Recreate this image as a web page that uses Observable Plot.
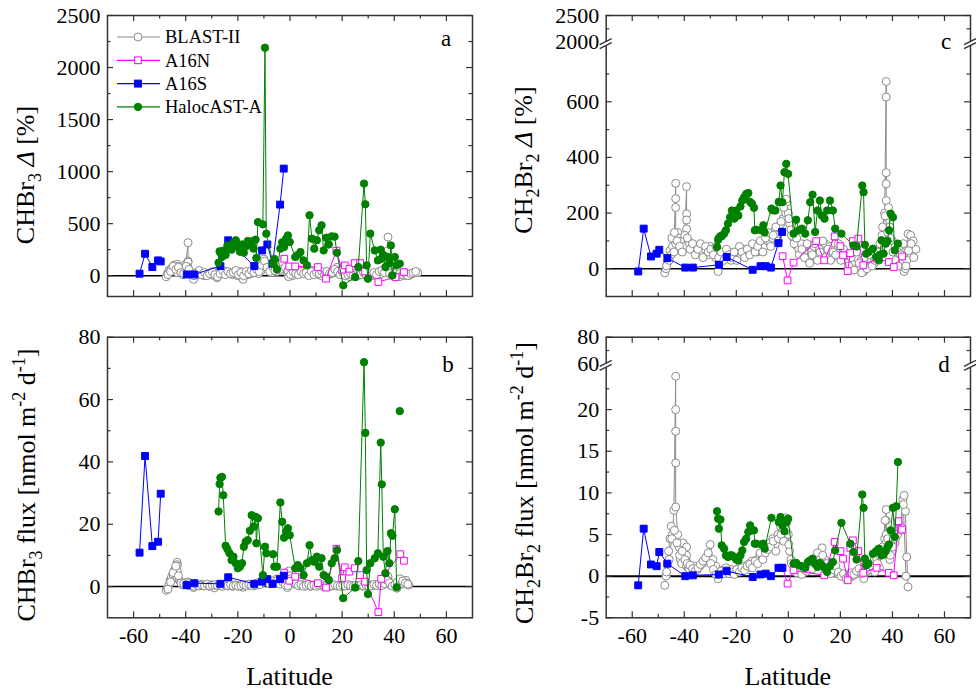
<!DOCTYPE html>
<html>
<head>
<meta charset="utf-8">
<script src="https://cdn.jsdelivr.net/npm/d3@7"></script>
<script src="https://cdn.jsdelivr.net/npm/@observablehq/plot@0.6"></script>
<style>
  body { margin: 0; background: #fff; }
  #fig { position: relative; width: 976px; height: 696px; background: #fff; }
  #fig svg { position: absolute; overflow: visible; }
</style>
</head>
<body>
<div id="fig"></div>
<script>
const FONT = '"Liberation Serif", "Times New Roman", serif';

// ---- BLAST-II, first leg (latitude in degrees) ----
const BLAST_LAT = [
  -47.5,-47,-46.5,-46,-45.5,-45,-44.5,-44,-43.3,-43.3,
  -43.3,-43.3,-43.3,-42.5,-42,-41.5,-41,-40.5,-40,-39.1,
  -39.1,-39.1,-39.1,-38.5,-38,-37,-36,-35,-34,-33,
  -32,-31,-30,-29,-28,-27,-26,-25,-24,-23,
  -22,-21,-20,-19,-18,-17,-16,-15,-14,-13,
  -12,-11,-10,-9,-8,-7,-6,-5,-4,-3,
  -2,-1,-0.5,0,0.5,1,2,3,4,5,
  6,7,8,9,10,11,12,13,14,15,
  16,17,18,19,20,21,22,23,24,25,
  26,27,28,29,30,31,32,33,34,35,
  36,37,37.6,37.6,37.6,37.6,37.6,38.5,39,40,
  41,42,43,44,44.5,45,45.5,46,47,48,
  49
];
const BLAST_A = [
  -10,20,50,40,70,60,100,80,110,90,
  70,50,30,60,40,20,10,60,110,317,
  140,130,80,40,20,-35,30,10,20,0,
  10,20,10,0,-20,10,30,40,20,30,
  10,20,0,40,-35,20,10,20,30,40,
  20,50,160,120,60,30,60,40,80,50,
  60,30,-10,40,20,0,30,40,20,30,
  50,20,10,30,20,10,0,20,30,10,
  20,50,80,30,10,20,0,-10,10,20,
  0,10,20,0,-10,0,10,20,30,20,
  40,60,371,240,150,90,50,30,10,0,
  10,-10,10,0,20,10,0,10,20,30,
  30
];
const BLAST_B = [
  -1.2,-0.5,0.5,2,3,4,5,6,7.8,7,
  6.5,5,3,2,1.5,1,0.5,1.2,1,0.5,
  0.8,1.5,0.3,0.6,0.2,-0.3,0.5,0.3,0.8,0.2,
  0.5,0.1,0.6,-0.4,0.3,0.5,0.2,0.6,0.2,0.4,
  0.1,0.5,0.2,0.3,-0.2,0.5,0.3,0.6,0.2,0.5,
  0.8,1.0,1.5,2.0,1.2,1.5,1.0,2.5,1.5,1.2,
  0.8,-0.3,5.0,3.5,2.0,1.2,0.8,0.5,0.3,0.6,
  0.2,0.4,0.1,0.5,0.3,0.6,0.2,0.4,0.1,0.3,
  0.2,0.5,0.2,0.4,0.1,0.3,0.2,0.5,0.1,0.3,
  0.2,0.4,0.1,0.3,0.2,0.5,0.3,0.6,0.2,0.5,
  0.8,1.2,2.5,3.2,2.0,1.5,1.0,0.5,0.8,0.3,
  -0.5,0.5,1.0,1.5,2.0,1.0,0.5,null,null,null,
  null
];
const BLAST_C = [
  -15,0,20,40,65,50,80,60,307,252,
  220,128,90,130,110,90,100,70,80,295,
  197,175,143,100,90,80,70,60,80,60,
  70,50,80,60,40,-10,30,50,40,60,
  30,50,40,60,50,70,50,60,70,80,
  60,90,70,80,100,90,110,140,120,160,
  180,200,240,200,160,140,110,85,70,90,
  60,40,30,60,80,50,70,40,90,60,
  80,40,90,70,50,60,40,20,0,20,
  40,10,30,-10,20,10,30,20,40,60,
  120,200,673,617,305,345,245,220,150,100,
  80,60,40,20,-10,0,30,125,120,100,
  70
];
const BLAST_D = [
  -1.1,0,1.5,3,4.5,6,5,7.9,24,20,
  17.4,13.6,8.3,5,3.5,2.0,1.5,4.0,3.0,3.5,
  2.5,1.8,1.2,1.0,0.8,1.0,1.2,0.8,1.2,1.5,
  2.0,2.5,3.8,2.0,1.2,-0.3,0.5,0.8,1.0,0.5,
  0.8,0.3,0.6,1.0,0.8,1.2,1.0,1.5,1.8,1.5,
  2.0,2.5,2.2,3.0,3.5,4.0,4.5,3.8,5.0,6.0,
  5.5,7.0,6.5,5.0,3.0,2.0,1.2,0.8,0.5,0.3,
  0.5,1.0,1.5,1.2,1.8,2.2,2.5,3.4,2.0,1.5,
  1.0,0.8,0.5,0.3,0.2,0.1,0.0,0.2,-0.1,0.1,
  0.3,0.5,0.8,-0.3,1.0,0.5,1.0,1.5,2.0,1.0,
  3.0,4.5,8.0,6.7,5.0,4.0,3.0,2.5,2.0,3.0,
  4.0,5.0,6.0,9.2,9.7,7.8,2.3,-1.3,null,null,
  null
];

// ---- BLAST-II, second leg ----
const BLAST2_LAT = [
  -46.8,-45.8,-44.8,-43.8,-42.8,-41.8,-40.8,-39.8,-38.8,-37.8,
  -36.8,-35.8,-34.8,-33.8,-32.8,-31.8,-30.8,-29.8,-28.8,-27.8,
  -26.8,-25.8,-24.8,-23.8,-22.8,-21.8,-20.8,-19.8,-18.8,-17.8,
  -16.8,-15.8,-14.8,-13.8,-12.8,-11.8,-10.8,-9.8,-8.8,-7.8,
  -6.8,-5.8,-4.8,-3.8,-2.8,-1.8,-0.8,0.2,1.2,2.2,
  3.2,4.2,5.2,6.2,7.2,8.2,9.2,10.2,11.2,12.2,
  13.2,14.2,15.2,16.2,17.2,18.2,19.2,20.2,21.2,22.2,
  23.2,24.2,25.2,26.2,27.2,28.2,29.2,30.2,31.2,32.2,
  33.2,34.2,35.2,36.2,37.2,38.2,39.2,40.2,41.2,42.2,
  43.2,44.2,45.2,46.2,47.2,48.2
];
const BLAST2_A = [
  10,40,90,60,80,30,20,90,60,10,
  0,30,50,10,30,0,20,40,10,-10,
  20,50,10,40,20,30,50,10,30,0,
  40,20,50,30,60,40,100,140,80,40,
  90,50,100,60,130,80,50,10,40,20,
  10,40,20,30,0,40,10,30,20,40,
  10,40,20,30,60,40,10,30,0,10,
  20,0,-10,20,10,30,10,20,0,30,
  10,40,50,30,80,20,0,20,0,20,
  10,20,0,20,30,40
];
const BLAST2_B = [
  -0.8,1.5,4.5,6.5,3.5,1.2,1.0,0.7,1.0,0.4,
  0.1,0.6,0.2,0.5,0.3,0.8,0.2,0.4,0.6,0.3,
  0.4,0.1,0.5,0.3,0.6,0.2,0.4,0.1,0.3,0.6,
  0.4,0.8,0.4,0.7,1.2,0.6,1.8,2.5,1.5,0.9,
  1.8,1.2,2.0,0.8,1.5,0.5,0.3,2.5,1.5,1.0,
  0.3,0.6,0.1,0.4,0.7,0.2,0.5,0.1,0.4,0.6,
  0.2,0.5,0.1,0.3,0.6,0.3,0.1,0.4,0.2,0.6,
  0.3,0.1,0.4,0.2,0.5,0.2,0.4,0.1,0.3,0.7,
  0.4,0.9,0.3,1.0,2.0,1.2,0.2,0.6,1.5,2.5,
  1.8,1.2,0.8,null,null,null
];
const BLAST2_C = [
  10,30,110,130,100,80,60,120,110,70,
  90,50,70,90,40,80,60,70,50,80,
  40,60,30,70,50,40,60,30,80,60,
  40,70,50,90,60,80,100,60,110,130,
  80,120,150,100,170,220,250,180,120,90,
  110,50,70,40,90,20,50,90,30,60,
  100,40,70,30,60,50,90,30,70,50,
  10,40,-5,60,20,-15,40,0,50,10,
  30,60,90,150,190,130,110,60,30,10,
  50,90,10,65,90,40
];
const BLAST2_D = [
  0.5,2.0,4.5,5.5,4.0,2.5,3.0,2.0,1.5,1.3,
  0.9,0.6,1.0,1.4,1.8,2.2,2.8,1.5,0.8,0.2,
  0.2,0.6,0.3,0.7,0.3,0.5,0.2,0.8,0.5,1.0,
  0.7,1.2,1.4,1.0,1.8,1.5,2.8,2.0,2.8,3.2,
  3.5,4.2,3.0,4.5,5.0,4.2,5.5,3.8,1.5,0.8,
  0.4,0.7,0.2,0.8,0.6,1.2,0.9,1.5,2.8,2.0,
  2.5,1.0,0.6,0.3,0.8,1.2,0.5,0.0,0.3,-0.3,
  0.0,0.4,0.2,0.6,0.9,0.3,1.2,0.6,0.8,1.2,
  0.5,1.5,2.5,3.5,6.7,4.5,2.5,3.5,4.5,6.5,
  5.5,8.6,0.0,null,null,null
];

// ---- A16N ----
const A16N_LAT = [-2.2,-0.3,2.0,10.7,13.8,17.8,20.0,21.0,22.8,23.8,24.8,26.9,28.8,33.9,35.0,38.6,40.5,42.3,43.7];
const A16N_A = [163,89,89,83,-29,240,58,99,67,null,121,121,41,-61,null,null,-13,null,35];
const A16N_B = [4.5,1.9,3.2,1.1,-0.3,12.1,2.7,6.2,4.8,null,5.9,3.7,1.6,-8.2,2.5,null,null,10.4,8.3];
const A16N_C = [45,-42,22,99,30,116,81,48,-9,56,99,108,12,36,null,24,6,null,44];
const A16N_D = [1.0,-0.9,0.7,null,0.1,4.1,3.0,2.1,-0.5,3.4,4.3,3.0,0.4,1.0,null,0.4,0.1,6.6,5.6];

// ---- A16S (NaN = no sample, the track line is broken there) ----
const A16S_LAT = [-57.7,-55.6,-52.8,-50.6,-49.6,-46.5,-39.6,-36.7,-26.7,-23.7,-13.7,-10.7,-8.7,-6.7,-3.8,-2.4];
const A16S_A = [19,211,83,147,137,NaN,12,12,92,340,92,243,300,115,683,1029];
const A16S_B = [10.9,41.9,13.0,14.4,29.8,NaN,0.5,1.1,0.9,3.0,0.9,1.6,2.4,0.9,2.4,3.5];
const A16S_C = [-10,144,44,54,68,38,4,4,14,42,-4,9,9,4,92,132];
const A16S_D = [-1.1,5.7,1.4,1.2,2.9,1.5,0.0,0.1,0.2,0.6,-0.1,0.2,0.3,0.0,1.0,1.0];

// ---- HalocAST-A ----
const HALO_LAT = [
  -27.4,-27.0,-26.7,-26.1,-25.6,-24.7,-24.0,-23.2,-22.4,-21.7,
  -20.8,-20.0,-19.2,-18.4,-17.7,-17.0,-16.2,-15.4,-14.7,-14.0,
  -13.2,-12.9,-12.3,-10.4,-9.6,-9.1,-6.5,-6.0,-5.0,-3.7,
  -3.0,-2.3,-1.5,-0.8,-0.1,2.0,3.0,4.0,5.2,6.5,
  7.5,8.4,9.3,10.3,11.2,12.1,12.9,13.9,14.9,16.0,
  17.1,18.0,20.4,23.8,25.0,26.2,28.4,28.9,29.4,29.9,
  30.8,32.5,33.7,34.8,35.2,35.8,36.6,37.4,38.1,38.7,
  39.3,40.2,40.9,41.5,42.1
];
const HALO_A = [
  125,234,220,180,240,200,290,270,250,320,
  340,280,230,300,220,280,333,300,330,260,
  346,170,515,493,2190,404,115,160,60,260,
  320,275,355,387,323,179,200,227,147,100,
  580,356,260,340,436,484,243,365,300,378,
  375,220,-93,null,-13,83,885,686,99,-29,
  404,243,147,250,163,200,83,180,120,291,
  3,179,100,null,115
];
const HALO_B = [
  24.1,32.9,34.9,35.2,29.3,13.1,12.0,10.7,8.5,9.6,
  7.5,5.9,6.4,7.5,12.8,14.4,14.9,17.9,22.9,19.2,
  22.4,13.9,21.9,3.7,12.8,10.7,10.4,6.4,6.4,27.0,
  20.8,15.7,17.6,18.7,16.5,5.9,6.9,5.9,3.7,7.5,
  13.3,8.5,8.0,9.6,6.4,9.1,3.7,3.2,2.1,7.5,
  9.1,11.7,-3.7,null,-0.3,8.2,72.0,49.3,5.3,-2.4,
  7.5,9.1,10.7,46.2,32.8,9.6,4.3,11.4,7.5,17.1,
  16.3,24.8,-0.2,NaN,56.3
];
const HALO_C = [
  78,104,110,117,117,126,138,162,185,209,
  180,209,191,224,245,257,269,272,240,234,
  219,138,140,138,156,130,216,210,209,240,
  299,239,347,377,341,126,176,138,144,126,
  174,239,266,132,209,245,191,180,209,245,
  209,144,126,null,84,80,299,275,86,54,
  60,72,42,30,50,102,54,90,100,138,
  198,185,66,null,90
];
const HALO_D = [
  7.8,6.9,5.7,6.8,3.7,3.3,2.5,2.3,2.5,2.5,
  2.3,2.0,1.9,2.5,3.1,4.1,4.5,5.3,6.1,5.5,
  5.5,3.9,3.9,3.8,3.9,3.3,7.0,null,null,6.5,
  7.1,6.1,5.4,6.5,6.9,1.5,1.6,1.3,1.2,1.0,
  1.7,1.9,2.1,1.5,1.1,1.6,1.3,1.0,0.5,1.2,
  1.7,3.1,6.4,3.9,2.9,2.0,9.8,8.2,2.1,1.3,
  1.5,2.7,3.0,3.3,2.8,2.5,2.6,3.0,3.5,3.8,
  5.5,8.2,4.7,8.4,13.7
];

// ---- axes ----
const X_DOMAIN = [-70, 70];
const X_MAJOR = [-60, -40, -20, 0, 20, 40, 60];
const X_MINOR = [-50, -30, -10, 10, 30, 50];

const SERIES = [
  {name: "BLAST-II", legs: [
     {lat: BLAST_LAT,  values: {a: BLAST_A,  b: BLAST_B,  c: BLAST_C,  d: BLAST_D}},
     {lat: BLAST2_LAT, values: {a: BLAST2_A, b: BLAST2_B, c: BLAST2_C, d: BLAST2_D}}],
   line: "#8c8c8c", stroke: "#8c8c8c", fill: "white", symbol: "circle", r: 4},
  {name: "A16N", legs: [{lat: A16N_LAT, values: {a: A16N_A, b: A16N_B, c: A16N_C, d: A16N_D}}],
   line: "#ff00ff", stroke: "#ff00ff", fill: "white", symbol: "square", r: 3.8},
  {name: "A16S", legs: [{lat: A16S_LAT, values: {a: A16S_A, b: A16S_B, c: A16S_C, d: A16S_D}}],
   line: "#0000ff", stroke: "#0000ff", fill: "#0000ff", symbol: "square", r: 3.9},
  {name: "HalocAST-A", legs: [{lat: HALO_LAT, values: {a: HALO_A, b: HALO_B, c: HALO_C, d: HALO_D}}],
   line: "#008000", stroke: "#008000", fill: "#008000", symbol: "circle", r: 3.7}
];

// null = not reported (skipped), NaN = gap in the connecting line
function rows(series, panel) {
  const out = [];
  series.legs.forEach((leg, k) => {
    const vals = leg.values[panel];
    if (leg.lat.length !== vals.length)
      throw new Error(`length mismatch in ${series.name} ${panel}: ${leg.lat.length} vs ${vals.length}`);
    leg.lat.forEach((l, i) => { if (vals[i] != null) out.push({lat: l, v: vals[i], leg: k}); });
  });
  return out;
}

// piecewise mapping for a broken value axis
function makeBreak(lowMax, gap, highMin, k) {
  return {
    lowMax, gap,
    f: v => v <= lowMax ? v : lowMax + gap + (v - highMin) * k,
    inv: u => u <= lowMax ? u : highMin + (u - lowMax - gap) / k
  };
}
const BREAK_C = makeBreak(800, 14.4, 2000, 0.192);
const BREAK_D = makeBreak(25, 0.49, 60, 0.16);

const fmt = v => String(Math.round(v * 100) / 100);
const fig = document.getElementById("fig");

function drawPanel(cfg) {
  const {id, left, top, width, height, mt, mb, ml, mr, brk, showX} = cfg;
  const fw = width - ml - mr, fh = height - mt - mb;
  const f = brk ? brk.f : (v => v);
  const inv = brk ? brk.inv : (v => v);
  const yDomain = [f(cfg.yMin), f(cfg.yMax)];
  const tickColor = "#333";
  const marks = [];

  marks.push(Plot.ruleY([0], {y: d => f(d), stroke: "#000", strokeWidth: cfg.zeroWidth || 1.5}));

  for (const s of SERIES) {
    const data = rows(s, id);
    marks.push(Plot.line(data, {x: "lat", y: d => f(d.v), z: "leg", stroke: s.line, strokeWidth: 1}));
    marks.push(Plot.dot(data, {x: "lat", y: d => f(d.v), r: s.r, symbol: s.symbol,
      stroke: s.stroke, fill: s.fill, strokeWidth: 1}));
  }

  // inward ticks on all four sides
  const tk = (vals, len, side) => {
    const o = {stroke: tickColor, strokeWidth: 1.2};
    if (side === "left") return Plot.tickY(vals, {...o, y: d => f(d), insetRight: fw - len});
    if (side === "right") return Plot.tickY(vals, {...o, y: d => f(d), insetLeft: fw - len});
    if (side === "top") return Plot.tickX(vals, {...o, x: d => d, insetBottom: fh - len});
    return Plot.tickX(vals, {...o, x: d => d, insetTop: fh - len});
  };
  for (const side of ["left", "right"]) {
    marks.push(tk(cfg.major, 6, side));
    marks.push(tk(cfg.minor, 3.5, side));
  }
  for (const side of ["top", "bottom"]) {
    marks.push(tk(X_MAJOR, 6, side));
    marks.push(tk(X_MINOR, 3.5, side));
  }

  marks.push(Plot.frame({stroke: "#333", strokeWidth: 1.5}));
  marks.push(Plot.axisY({ticks: cfg.labels.map(f), tickSize: 0, tickPadding: 7,
    tickFormat: u => fmt(inv(u)), label: null}));
  if (showX) {
    marks.push(Plot.axisX({ticks: X_MAJOR, tickSize: 0, tickPadding: 10, tickFormat: d => String(d), label: null}));
  }

  const svg = Plot.plot({
    width, height,
    marginTop: mt, marginBottom: mb, marginLeft: ml, marginRight: mr,
    x: {domain: X_DOMAIN, axis: null},
    y: {domain: yDomain, axis: null},
    style: {fontFamily: FONT, fontSize: "22px", color: "#000", background: "transparent", overflow: "visible"},
    marks
  });
  svg.style.left = left + "px";
  svg.style.top = top + "px";
  fig.appendChild(svg);

  const sel = d3.select(svg);

  // axis-break symbols
  if (brk) {
    const y = svg.scale("y");
    const y1 = y.apply(brk.lowMax), y2 = y.apply(brk.lowMax + brk.gap);
    for (const xe of [ml, width - mr]) {
      sel.append("rect").attr("x", xe - 3).attr("y", y2).attr("width", 6).attr("height", y1 - y2).attr("fill", "white");
      for (const yy of [y1, y2]) {
        sel.append("line").attr("x1", xe - 6).attr("y1", yy + 3).attr("x2", xe + 6).attr("y2", yy - 3)
          .attr("stroke", "#333").attr("stroke-width", 1.3);
      }
    }
  }

  // y-axis title with sub/superscripts
  const t = sel.append("text")
    .attr("transform", `translate(${cfg.titleX},${cfg.titleY}) rotate(-90)`)
    .attr("text-anchor", "middle").attr("font-family", FONT).attr("font-size", 26)
    .attr("fill", "#000").style("white-space", "pre");
  let shift = 0;
  for (const [txt, kind] of cfg.title) {
    const ts = t.append("tspan").text(txt);
    let target = 0;
    if (kind === "sub") { target = 7; ts.attr("font-size", 18); }
    else if (kind === "sup") { target = -10; ts.attr("font-size", 18); }
    else if (kind === "it") { ts.attr("font-style", "italic"); }
    if (target !== shift) { ts.attr("dy", target - shift); shift = target; }
  }

  // panel letter
  sel.append("text").attr("x", width - mr - cfg.letterDx).attr("y", mt + cfg.letterDy)
    .attr("text-anchor", "middle").attr("font-family", FONT).attr("font-size", 23)
    .attr("fill", "#000").text(id);

  if (showX) {
    sel.append("text").attr("x", ml + fw / 2).attr("y", 375)
      .attr("text-anchor", "middle").attr("font-family", FONT).attr("font-size", 26)
      .attr("fill", "#000").text("Latitude");
  }
  return svg;
}

const TITLE_A = [["CHBr"], ["3", "sub"], [" "], ["Δ", "it"], [" [%]"]];
const TITLE_B = [["CHBr"], ["3", "sub"], [" flux [nmol m"], ["-2", "sup"], [" d"], ["-1", "sup"], ["]"]];
const TITLE_C = [["CH"], ["2", "sub"], ["Br"], ["2", "sub"], [" "], ["Δ", "it"], [" [%]"]];
const TITLE_D = [["CH"], ["2", "sub"], ["Br"], ["2", "sub"], [" flux [nmol m"], ["-2", "sup"], [" d"], ["-1", "sup"], ["]"]];

const svgA = drawPanel({
  id: "a", left: 0, top: 0, width: 490, height: 310, mt: 15, mb: 14, ml: 107, mr: 18,
  yMin: -200, yMax: 2500,
  major: [0, 500, 1000, 1500, 2000, 2500], minor: [250, 750, 1250, 1750, 2250],
  labels: [0, 500, 1000, 1500, 2000, 2500],
  title: TITLE_A, titleX: 34, titleY: 175, letterDx: 26, letterDy: 31
});
drawPanel({
  id: "b", left: 0, top: 310, width: 490, height: 386, mt: 26.7, mb: 78.7, ml: 107, mr: 18,
  yMin: -10, yMax: 80, showX: true,
  major: [0, 20, 40, 60, 80], minor: [10, 30, 50, 70],
  labels: [0, 20, 40, 60, 80],
  title: TITLE_B, titleX: 35, titleY: 175, letterDx: 24, letterDy: 35
});
drawPanel({
  id: "c", left: 490, top: 0, width: 486, height: 310, mt: 15, mb: 14, ml: 115.7, mr: 6,
  yMin: -100, yMax: 2500, brk: BREAK_C,
  major: [0, 200, 400, 600, 2500], minor: [100, 300, 500, 700, 2250],
  labels: [0, 200, 400, 600, 2000, 2500],
  title: TITLE_C, titleX: 42, titleY: 160, letterDx: 24, letterDy: 34
});
drawPanel({
  id: "d", left: 490, top: 310, width: 486, height: 386, mt: 26.7, mb: 78.7, ml: 115.7, mr: 6,
  yMin: -5, yMax: 80, brk: BREAK_D, showX: true, zeroWidth: 2,
  major: [-5, 0, 5, 10, 15, 20, 80], minor: [-2.5, 2.5, 7.5, 12.5, 17.5, 22.5, 70],
  labels: [-5, 0, 5, 10, 15, 20, 60, 80],
  title: TITLE_D, titleX: 43, titleY: 173, letterDx: 26, letterDy: 35
});

// legend in panel a
(function legend() {
  const sel = d3.select(svgA);
  SERIES.forEach((s, i) => {
    const y = 37 + i * 23.3;
    const g = sel.append("g");
    g.append("line").attr("x1", 117).attr("x2", 160).attr("y1", y).attr("y2", y)
      .attr("stroke", s.line).attr("stroke-width", 1.2);
    if (s.symbol === "circle") {
      g.append("circle").attr("cx", 138).attr("cy", y).attr("r", s.r)
        .attr("fill", s.fill).attr("stroke", s.stroke).attr("stroke-width", 1);
    } else {
      const side = s.r * Math.sqrt(Math.PI);
      g.append("rect").attr("x", 138 - side / 2).attr("y", y - side / 2).attr("width", side).attr("height", side)
        .attr("fill", s.fill).attr("stroke", s.stroke).attr("stroke-width", 1);
    }
    g.append("text").attr("x", 165).attr("y", y).attr("dy", "0.35em").attr("text-anchor", "start")
      .attr("font-family", FONT).attr("font-size", 18.5).attr("fill", "#000").text(s.name);
  });
})();
</script>
</body>
</html>
